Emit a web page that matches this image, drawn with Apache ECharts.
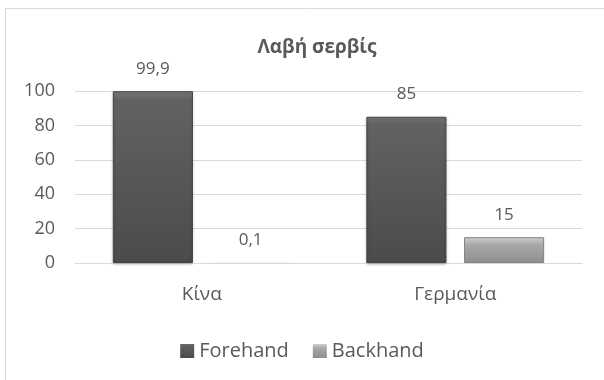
<!DOCTYPE html>
<html>
<head>
<meta charset="utf-8">
<script src="https://cdn.jsdelivr.net/npm/echarts@6/dist/echarts.min.js"></script>
<style>
  html, body { margin: 0; padding: 0; background: #fff; }
  #chart { width: 604px; height: 380px; }
</style>
</head>
<body>
<div id="chart"></div>
<script>
var categories = ['Κίνα', 'Γερμανία'];
var forehand = [99.9, 85];
var backhand = [0.1, 15];
var yTicks = [0, 20, 40, 60, 80, 100];

var txt = '#595959';
var font = 'Open Sans';

function grad(stops) {
    return new echarts.graphic.LinearGradient(0, 0, 0, 1, stops.map(function (s) {
        return { offset: s[0], color: s[1] };
    }));
}

function commaLabel(p) {
    return String(p.value).replace('.', ',');
}

// tiny bars (0,1) show no outline in the original
function withOutline(values, color) {
    return values.map(function (v) {
        return {
            value: v,
            itemStyle: { borderColor: color, borderWidth: v >= 1 ? 1 : 0 }
        };
    });
}

var chart = echarts.init(document.getElementById('chart'));
chart.setOption({
    animation: false,
    textStyle: { fontFamily: font },
    graphic: [{
        type: 'rect',
        shape: { x: 5.5, y: 8.5, width: 700, height: 500 },
        style: { fill: 'none', stroke: '#d9d9d9', lineWidth: 1 },
        silent: true
    }],
    title: {
        text: 'Λαβή σερβίς',
        left: 312,
        top: 33,
        textAlign: 'center',
        textStyle: { color: txt, fontSize: 19, fontWeight: 'bold', fontFamily: font }
    },
    legend: {
        data: ['Forehand', 'Backhand'],
        left: 'center',
        top: 336,
        itemWidth: 14,
        itemHeight: 14,
        itemGap: 24,
        icon: 'rect',
        textStyle: { color: txt, fontSize: 20, fontFamily: font }
    },
    grid: { left: 75, right: 22, top: 91, bottom: 117 },
    xAxis: {
        type: 'category',
        data: categories,
        axisLine: { show: true, lineStyle: { color: '#d9d9d9' } },
        axisTick: { show: false },
        axisLabel: { color: txt, fontSize: 19, margin: 22, fontFamily: font }
    },
    yAxis: {
        type: 'value',
        min: yTicks[0],
        max: yTicks[yTicks.length - 1],
        interval: yTicks[1] - yTicks[0],
        axisLine: { show: false },
        axisTick: { show: false },
        splitLine: { lineStyle: { color: '#d9d9d9', width: 1 } },
        axisLabel: { color: txt, fontSize: 18, margin: 20, fontFamily: font }
    },
    series: [
        {
            name: 'Forehand',
            type: 'bar',
            data: withOutline(forehand, '#454545'),
            barWidth: '31.6%',
            barGap: '22%',
            itemStyle: {
                color: grad([[0, '#7a7a7a'], [0.05, '#626262'], [1, '#4b4b4b']]),
                shadowColor: 'rgba(0,0,0,0.25)',
                shadowBlur: 3,
                shadowOffsetY: 1
            },
            label: {
                show: true,
                position: 'top',
                distance: 14,
                color: txt,
                fontSize: 17,
                fontFamily: font,
                formatter: commaLabel
            }
        },
        {
            name: 'Backhand',
            type: 'bar',
            data: withOutline(backhand, '#828282'),
            barWidth: '31.6%',
            itemStyle: {
                color: grad([[0, '#cfcfcf'], [0.3, '#a8a8a8'], [1, '#8e8e8e']])
            },
            label: {
                show: true,
                position: 'top',
                distance: 14,
                color: txt,
                fontSize: 17,
                fontFamily: font,
                formatter: commaLabel
            }
        }
    ]
});
</script>
</body>
</html>
